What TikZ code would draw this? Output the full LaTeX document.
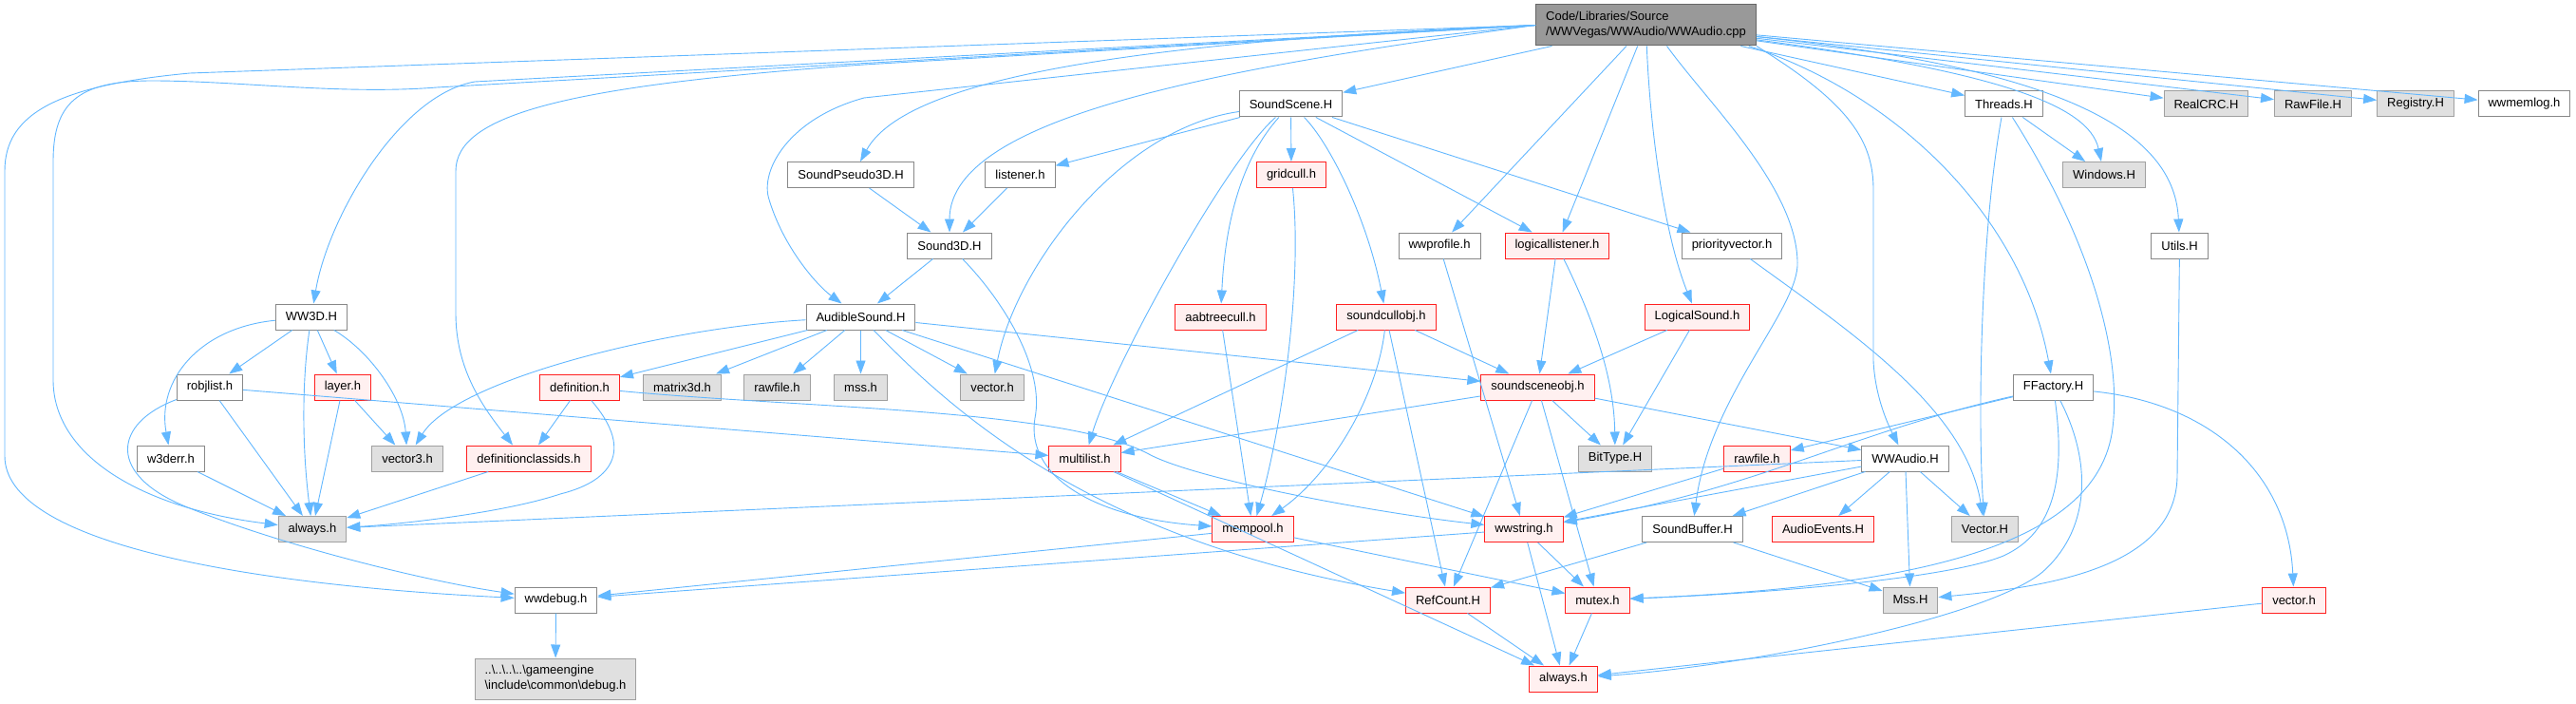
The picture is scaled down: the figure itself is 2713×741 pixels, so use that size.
\documentclass[tikz,border=0pt]{standalone}
\usepackage{fontspec}
\setmainfont{Liberation Sans}
\usetikzlibrary{arrows.meta}
\definecolor{edgeblue}{HTML}{63B8FF}
\definecolor{hdrline}{HTML}{888888}
\definecolor{extline}{HTML}{A0A0A0}
\definecolor{extfill}{HTML}{E0E0E0}
\definecolor{cutline}{HTML}{FF2020}
\definecolor{cutfill}{HTML}{FFF0F0}
\definecolor{rootline}{HTML}{666666}
\definecolor{rootfill}{HTML}{999999}
\tikzset{
  hdr/.style={rectangle, draw=hdrline, line width=1pt, fill=white,
              font=\fontsize{13}{16}\selectfont, inner xsep=10.5pt,
              inner ysep=0pt, minimum height=27pt},
  exthdr/.style={hdr, draw=extline, fill=extfill},
  cuthdr/.style={hdr, draw=cutline, fill=cutfill},
  roothdr/.style={hdr, draw=rootline, fill=rootfill, align=left,
                  minimum height=43pt},
  incl/.style={draw=edgeblue, line width=0.9pt,
               -{Triangle[length=14pt,width=10pt]}}
}
\begin{document}
\begin{tikzpicture}[x=1pt,y=-1pt]
  \fill[white] (0,0) rectangle (2713,741);
  \node[roothdr] (root) at (1733.5,26.5) {Code/Libraries/Source\\/WWVegas/WWAudio/WWAudio.cpp};
  \node[hdr] (sscene) at (1359.5,109.5) {SoundScene.H};
  \node[hdr] (threads) at (2110.5,109.5) {Threads.H};
  \node[exthdr] (realcrc) at (2323.5,109.5) {RealCRC.H};
  \node[exthdr] (rawfileH) at (2436,109.5) {RawFile.H};
  \node[exthdr] (registry) at (2544,109.5) {Registry.H};
  \node[hdr] (memlog) at (2658.5,109.5) {wwmemlog.h};
  \node[hdr] (pseudo) at (896,184) {SoundPseudo3D.H};
  \node[hdr] (listener) at (1074.5,184) {listener.h};
  \node[cuthdr] (gridcull) at (1360,184) {gridcull.h};
  \node[exthdr] (windows) at (2216,184) {Windows.H};
  \node[hdr] (sound3d) at (1000,258.5) {Sound3D.H};
  \node[hdr] (profile) at (1516,258.5) {wwprofile.h};
  \node[cuthdr] (loglist) at (1640,258.5) {logicallistener.h};
  \node[hdr] (prio) at (1824,258.5) {priorityvector.h};
  \node[hdr] (utils) at (2295.5,258.5) {Utils.H};
  \node[hdr] (ww3d) at (328,333.5) {WW3D.H};
  \node[hdr] (audible) at (906.5,333.5) {AudibleSound.H};
  \node[cuthdr] (aabtree) at (1285.5,333.5) {aabtreecull.h};
  \node[cuthdr] (scullobj) at (1460,333.5) {soundcullobj.h};
  \node[cuthdr] (logsound) at (1787.5,333.5) {LogicalSound.h};
  \node[hdr] (robjlist) at (221,407.5) {robjlist.h};
  \node[cuthdr] (layer) at (361,407.5) {layer.h};
  \node[cuthdr] (definition) at (610.5,407.5) {definition.h};
  \node[exthdr] (matrix3d) at (718.5,407.5) {matrix3d.h};
  \node[exthdr] (rawfileg) at (818.5,407.5) {rawfile.h};
  \node[exthdr] (mss) at (906.5,407.5) {mss.h};
  \node[exthdr] (vectorg) at (1045,407.5) {vector.h};
  \node[cuthdr] (ssobj) at (1619.5,407.5) {soundsceneobj.h};
  \node[hdr] (ffactory) at (2162.5,407.5) {FFactory.H};
  \node[hdr] (w3derr) at (180,482.5) {w3derr.h};
  \node[exthdr] (vector3) at (429,482.5) {vector3.h};
  \node[cuthdr] (defclass) at (557,482.5) {definitionclassids.h};
  \node[cuthdr] (multilist) at (1142.5,482.5) {multilist.h};
  \node[exthdr] (bittype) at (1701,482.5) {BitType.H};
  \node[cuthdr] (rawfiler) at (1850.5,482.5) {rawfile.h};
  \node[hdr] (wwaudio) at (2006.5,482.5) {WWAudio.H};
  \node[exthdr] (alwaysg) at (329,557) {always.h};
  \node[cuthdr] (mempool) at (1319.5,557) {mempool.h};
  \node[cuthdr] (wwstring) at (1605,557) {wwstring.h};
  \node[hdr] (sbuffer) at (1782.5,557) {SoundBuffer.H};
  \node[cuthdr] (audioevents) at (1920,557) {AudioEvents.H};
  \node[exthdr] (vectorH) at (2090.5,557) {Vector.H};
  \node[hdr] (wwdebug) at (585.5,631.5) {wwdebug.h};
  \node[cuthdr] (refcount) at (1525,631.5) {RefCount.H};
  \node[cuthdr] (mutex) at (1682.5,631.5) {mutex.h};
  \node[exthdr] (mssH) at (2012,631.5) {Mss.H};
  \node[cuthdr] (vectorr) at (2416,631.5) {vector.h};
  \node[exthdr, align=left, minimum height=43pt] (debug) at (585,714.5) {..\textbackslash..\textbackslash..\textbackslash..\textbackslash gameengine\\\textbackslash include\textbackslash common\textbackslash debug.h};
  \node[cuthdr] (alwaysr) at (1646.5,714.5) {always.h};

  \draw[incl] (root.west) -- (200,77) .. controls (60,90) and (5,120) .. (5,180) -- (5,480) .. controls (5,570) and (250,615) .. (wwdebug);
  \draw[incl] (root.west) -- (460,92) .. controls (360,100) and (250,85) .. (160,85) .. controls (80,85) and (56,110) .. (56,170) -- (56,400) .. controls (56,480) and (150,535) .. (alwaysg);
  \draw[incl] (root.west) -- (500,86) .. controls (420,100) and (345,230) .. (ww3d);
  \draw[incl] (root.west) -- (910,68) .. controls (600,90) and (480,120) .. (480,180) -- (480,330) .. controls (480,390) and (510,430) .. ([xshift=-17pt]defclass.north);
  \draw[incl] (root.west) -- (910,103) .. controls (830,125) and (800,180) .. (810,210) .. controls (825,260) and (860,300) .. ([xshift=-20pt]audible.north);
  \draw[incl] (root.west) .. controls (1150,45) and (950,90) .. ([xshift=10pt]pseudo.north);
  \draw[incl] (root.west) .. controls (1300,70) and (1000,120) .. (sound3d);
  \draw[incl] (root) -- (sscene); \draw[incl] (root) -- (profile); \draw[incl] (root) -- (loglist);
  \draw[incl] (root) .. controls (1737,120) and (1750,240) .. (logsound);
  \draw[incl] (root) -- (threads); \draw[incl] (root) -- (realcrc); \draw[incl] (root) -- (rawfileH);
  \draw[incl] (root) -- (registry); \draw[incl] (root) -- (memlog);
  \draw[incl] (root) .. controls (2100,75) and (2200,110) .. (windows);
  \draw[incl] (root) .. controls (2150,70) and (2290,130) .. (utils);
  \draw[incl] (root.south east) .. controls (1950,110) and (1973,150) .. (1973,200) -- (1973,380) .. controls (1975,420) and (1990,450) .. (wwaudio);
  \draw[incl] ([xshift=-8pt]root.south east) .. controls (2000,100) and (2130,230) .. (ffactory);
  \draw[incl] ([xshift=22pt]root.south) .. controls (1800,110) and (1895,200) .. (1893,280) .. controls (1890,330) and (1800,420) .. (sbuffer);

  \draw[incl] (sscene) -- (listener); \draw[incl] (sscene) -- (gridcull);
  \draw[incl] ([yshift=-8pt]sscene.west) .. controls (1180,135) and (1070,280) .. (vectorg);
  \draw[incl] (sscene) .. controls (1290,170) and (1170,390) .. (multilist);
  \draw[incl] (sscene) .. controls (1305,170) and (1290,240) .. (aabtree);
  \draw[incl] (sscene) .. controls (1400,150) and (1440,230) .. (scullobj);
  \draw[incl] (sscene) -- (loglist); \draw[incl] (sscene) -- (prio);
  \draw[incl] (pseudo) -- (sound3d); \draw[incl] (listener) -- (sound3d);
  \draw[incl] (gridcull) .. controls (1372,300) and (1350,450) .. (mempool);
  \draw[incl] (sound3d) -- (audible);
  \draw[incl] (sound3d) .. controls (1060,320) and (1100,390) .. (1090,440) .. controls (1080,500) and (1150,545) .. (mempool);
  \draw[incl] (threads) -- (windows);
  \draw[incl] (threads) .. controls (2085,250) and (2083,450) .. (vectorH);
  \draw[incl] (threads) .. controls (2200,250) and (2235,370) .. (2225,450) .. controls (2210,580) and (2000,618) .. (mutex);
  \draw[incl] (utils) -- (2293,500) .. controls (2293,600) and (2150,618) .. (mssH);

  \draw[incl] (ww3d) -- (robjlist); \draw[incl] (ww3d) -- (layer);
  \draw[incl] (ww3d) .. controls (210,345) and (165,400) .. (w3derr);
  \draw[incl] (ww3d) .. controls (318,400) and (318,470) .. (alwaysg);
  \draw[incl] (ww3d) .. controls (390,370) and (425,420) .. (vector3);
  \draw[incl] (robjlist) -- (alwaysg); \draw[incl] (robjlist) -- (multilist);
  \draw[incl] (robjlist) .. controls (120,445) and (110,500) .. (200,535) .. controls (300,575) and (450,612) .. (wwdebug);
  \draw[incl] (layer) -- (alwaysg); \draw[incl] (layer) -- (vector3); \draw[incl] (w3derr) -- (alwaysg);
  \draw[incl] (definition) -- (defclass);
  \draw[incl] (definition) .. controls (665,470) and (650,505) .. (590,520) .. controls (530,540) and (420,552) .. (alwaysg);
  \draw[incl] (definition) .. controls (850,430) and (1120,430) .. (1210,478) .. controls (1260,505) and (1450,540) .. (wwstring);
  \draw[incl] (defclass) -- (alwaysg);

  \draw[incl] (audible) .. controls (700,345) and (480,400) .. (vector3);
  \draw[incl] (audible) -- (definition); \draw[incl] (audible) -- (matrix3d); \draw[incl] (audible) -- (rawfileg);
  \draw[incl] (audible) -- (mss); \draw[incl] (audible) -- (vectorg);
  \draw[incl] (audible) .. controls (1000,430) and (1150,570) .. (refcount);
  \draw[incl] (audible) -- (wwstring); \draw[incl] (audible) -- (ssobj);
  \draw[incl] (aabtree) -- (mempool);
  \draw[incl] (scullobj) -- (ssobj); \draw[incl] (scullobj) -- (multilist); \draw[incl] (scullobj) -- (refcount);
  \draw[incl] (scullobj) .. controls (1450,420) and (1400,500) .. (mempool);
  \draw[incl] (loglist) -- (ssobj);
  \draw[incl] (loglist) .. controls (1680,340) and (1700,400) .. (bittype);
  \draw[incl] (logsound) -- (ssobj); \draw[incl] (logsound) -- (bittype);
  \draw[incl] (profile) -- (wwstring);
  \draw[incl] (prio) .. controls (1950,350) and (2070,430) .. (vectorH);
  \draw[incl] (ssobj) -- (multilist); \draw[incl] (ssobj) -- (refcount); \draw[incl] (ssobj) -- (mutex);
  \draw[incl] (ssobj) -- (bittype); \draw[incl] (ssobj) -- (wwaudio);

  \draw[incl] (ffactory) -- (rawfiler);
  \draw[incl] (ffactory) .. controls (1950,455) and (1850,515) .. (wwstring);
  \draw[incl] (ffactory) .. controls (2175,500) and (2165,560) .. (2110,585) .. controls (2050,610) and (1850,625) .. (mutex);
  \draw[incl] (ffactory) .. controls (2205,490) and (2200,560) .. (2150,603) .. controls (2090,650) and (1850,700) .. (alwaysr);
  \draw[incl] (ffactory) .. controls (2330,425) and (2410,500) .. (vectorr);
  \draw[incl] (rawfiler) -- (wwstring);
  \draw[incl] (wwaudio) -- (alwaysg); \draw[incl] (wwaudio) -- (wwstring); \draw[incl] (wwaudio) -- (sbuffer);
  \draw[incl] (wwaudio) -- (audioevents); \draw[incl] (wwaudio) -- (mssH); \draw[incl] (wwaudio) -- (vectorH);
  \draw[incl] (sbuffer) -- (refcount); \draw[incl] (sbuffer) -- (mssH);
  \draw[incl] (wwstring) -- (wwdebug); \draw[incl] (wwstring) -- (mutex); \draw[incl] (wwstring) -- (alwaysr);
  \draw[incl] (mempool) -- (wwdebug); \draw[incl] (mempool) -- (mutex);
  \draw[incl] (multilist) -- (mempool); \draw[incl] (multilist) -- (alwaysr);
  \draw[incl] (refcount) -- (alwaysr); \draw[incl] (mutex) -- (alwaysr); \draw[incl] (vectorr) -- (alwaysr);
  \draw[incl] (wwdebug) -- (debug);
\end{tikzpicture}
\end{document}
